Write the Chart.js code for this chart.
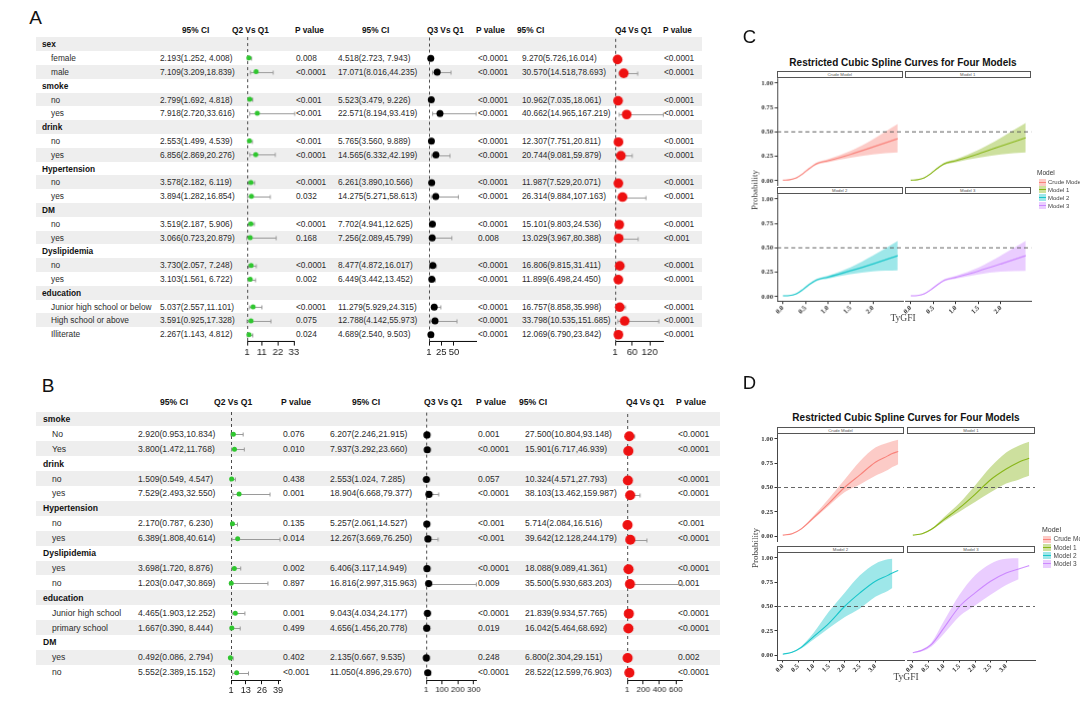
<!DOCTYPE html>
<html>
<head>
<meta charset="utf-8">
<script src="https://cdn.jsdelivr.net/npm/chart.js@4.4.1/dist/chart.umd.min.js"></script>
<style>
  html, body { margin: 0; padding: 0; background: #fff; }
  body { width: 1080px; height: 707px; position: relative; overflow: hidden; font-family: "Liberation Sans", Arial, sans-serif; }
  .t { position: absolute; white-space: pre; line-height: 12px; height: 12px; color: #2b2b2b; }
  .b { font-weight: bold; color: #111; }
  .box { position: absolute; }
  .stripe { position: absolute; background: #eeeeee; }
  .letter { position: absolute; line-height: 1; color: #111; }
  .c { position: absolute; white-space: nowrap; transform: translate(-50%, -50%); line-height: 1; }
  .strip { position: absolute; box-sizing: border-box; border: 1px solid #555; background: #fff; text-align: center; color: #555; font-size: 4.3px; overflow: hidden; }
  .key { position: absolute; }
  .key i { position: absolute; left: 0; right: 0; top: 50%; height: 1px; margin-top: -0.5px; }
</style>
</head>
<body>
<script>
"use strict";
//Panel A - subgroups
const groupsA = ['sex', 'smoke', 'drink', 'Hypertension', 'DM', 'Dyslipidemia', 'education'];
const levelsA = [['female', 'male'], ['no', 'yes'], ['no', 'yes'], ['no', 'yes'], ['no', 'yes'], ['no', 'yes'],
  ['Junior high school or below', 'High school or above', 'Illiterate']];
//Q2 vs Q1
const orA2 = [2.193, 7.109, 2.799, 7.918, 2.553, 6.856, 3.578, 3.894, 3.519, 3.066, 3.730, 3.103, 5.037, 3.591, 2.267];
const loA2 = [1.252, 3.209, 1.692, 2.720, 1.499, 2.869, 2.182, 1.282, 2.187, 0.723, 2.057, 1.561, 2.557, 0.925, 1.143];
const hiA2 = [4.008, 18.839, 4.818, 33.616, 4.539, 20.276, 6.119, 16.854, 5.906, 20.879, 7.248, 6.722, 11.101, 17.328, 4.812];
const pA2 = ['0.008', '<0.0001', '<0.001', '<0.001', '<0.001', '<0.0001', '<0.0001', '0.032', '<0.0001', '0.168', '<0.0001', '0.002', '<0.0001', '0.075', '0.024'];
//Q3 vs Q1
const orA3 = [4.518, 17.071, 5.523, 22.571, 5.765, 14.565, 6.261, 14.275, 7.702, 7.256, 8.477, 6.449, 11.279, 12.788, 4.689];
const loA3 = [2.723, 8.016, 3.479, 8.194, 3.560, 6.332, 3.890, 5.271, 4.941, 2.089, 4.872, 3.442, 5.929, 4.142, 2.540];
const hiA3 = [7.943, 44.235, 9.226, 93.419, 9.889, 42.199, 10.566, 58.613, 12.625, 45.799, 16.017, 13.452, 24.315, 55.973, 9.503];
const pA3 = ['<0.0001', '<0.0001', '<0.0001', '<0.0001', '<0.0001', '<0.0001', '<0.0001', '<0.0001', '<0.0001', '0.008', '<0.0001', '<0.0001', '<0.0001', '<0.0001', '<0.0001'];
//Q4 vs Q1
const orA4 = [9.270, 30.570, 10.962, 40.662, 12.307, 20.744, 11.987, 26.314, 15.101, 13.029, 16.806, 11.899, 16.757, 33.798, 12.069];
const loA4 = [5.726, 14.518, 7.035, 14.965, 7.751, 9.081, 7.529, 9.884, 9.803, 3.967, 9.815, 6.498, 8.858, 10.535, 6.790];
const hiA4 = [16.014, 78.693, 18.061, 167.219, 20.811, 59.879, 20.071, 107.163, 24.536, 80.388, 31.411, 24.450, 35.998, 151.685, 23.842];
const pA4 = ['<0.0001', '<0.0001', '<0.0001', '<0.0001', '<0.0001', '<0.0001', '<0.0001', '<0.0001', '<0.0001', '<0.001', '<0.0001', '<0.0001', '<0.0001', '<0.0001', '<0.0001'];
const ticksA2 = [1, 11, 22, 33];
const ticksA3 = [1, 25, 50];
const ticksA4 = [1, 60, 120];

//Panel B - subgroups
const groupsB = ['smoke', 'drink', 'Hypertension', 'Dyslipidemia', 'education', 'DM'];
const levelsB = [['No', 'Yes'], ['no', 'yes'], ['no', 'yes'], ['yes', 'no'], ['Junior high school', 'primary school'], ['yes', 'no']];
const orB2 = [2.920, 3.800, 1.509, 7.529, 2.170, 6.389, 3.698, 1.203, 4.465, 1.667, 0.492, 5.552];
const loB2 = [0.953, 1.472, 0.549, 2.493, 0.787, 1.808, 1.720, 0.047, 1.903, 0.390, 0.086, 2.389];
const hiB2 = [10.834, 11.768, 4.547, 32.550, 6.230, 40.614, 8.876, 30.869, 12.252, 8.444, 2.794, 15.152];
const pB2 = ['0.076', '0.010', '0.438', '0.001', '0.135', '0.014', '0.002', '0.897', '0.001', '0.499', '0.402', '<0.001'];
const orB3 = [6.207, 7.937, 2.553, 18.904, 5.257, 12.267, 6.406, 16.816, 9.043, 4.656, 2.135, 11.050];
const loB3 = [2.246, 3.292, 1.024, 6.668, 2.061, 3.669, 3.117, 2.997, 4.034, 1.456, 0.667, 4.896];
const hiB3 = [21.915, 23.660, 7.285, 79.377, 14.527, 76.250, 14.949, 315.963, 24.177, 20.778, 9.535, 29.670];
const pB3 = ['0.001', '<0.0001', '0.057', '<0.0001', '<0.001', '<0.001', '<0.0001', '0.009', '<0.0001', '0.019', '0.248', '<0.0001'];
const orB4 = [27.500, 15.901, 10.324, 38.103, 5.714, 39.642, 18.088, 35.500, 21.839, 16.042, 6.800, 28.522];
const loB4 = [10.804, 6.717, 4.571, 13.462, 2.084, 12.128, 9.089, 5.930, 9.934, 5.464, 2.304, 12.599];
const hiB4 = [93.148, 46.939, 27.793, 159.987, 16.516, 244.179, 41.361, 683.203, 57.765, 68.692, 29.151, 76.903];
const pB4 = ['<0.0001', '<0.0001', '<0.0001', '<0.0001', '<0.001', '<0.0001', '<0.0001', '0.001', '<0.0001', '<0.0001', '0.002', '<0.0001'];
const ticksB2 = [1, 13, 26, 39];
const ticksB3 = [1, 100, 200, 300];
const ticksB4 = [1, 200, 400, 600];

const headers = ['95% CI', 'Q2 Vs Q1', 'P value', '95% CI', 'Q3 Vs Q1', 'P value', '95% CI', 'Q4 Vs Q1', 'P value'];

//Panels C/D - spline curves
const modelNames = ['Crude Model', 'Model 1', 'Model 2', 'Model 3'];
const xC = [0, 0.15, 0.3, 0.45, 0.6, 0.75, 1.0, 1.5, 2.0, 2.55];
const crudeC = [0.005, 0.01, 0.03, 0.075, 0.13, 0.175, 0.205, 0.27, 0.345, 0.43];
const crudeLoC = [0.003, 0.007, 0.025, 0.068, 0.122, 0.165, 0.19, 0.235, 0.27, 0.29];
const crudeHiC = [0.007, 0.013, 0.035, 0.082, 0.138, 0.185, 0.22, 0.305, 0.425, 0.58];
const m1C = [0.005, 0.01, 0.03, 0.075, 0.13, 0.175, 0.205, 0.275, 0.355, 0.44];
const m1LoC = [0.003, 0.007, 0.025, 0.068, 0.122, 0.165, 0.19, 0.235, 0.27, 0.29];
const m1HiC = [0.007, 0.013, 0.035, 0.082, 0.138, 0.185, 0.22, 0.315, 0.44, 0.59];
const m2C = [0.008, 0.012, 0.03, 0.075, 0.13, 0.172, 0.2, 0.265, 0.335, 0.42];
const m2LoC = [0.005, 0.009, 0.025, 0.068, 0.122, 0.162, 0.185, 0.23, 0.26, 0.27];
const m2HiC = [0.011, 0.015, 0.035, 0.082, 0.138, 0.182, 0.215, 0.30, 0.42, 0.57];
const m3C = [0.008, 0.012, 0.03, 0.072, 0.125, 0.168, 0.198, 0.262, 0.335, 0.42];
const m3LoC = [0.005, 0.009, 0.025, 0.065, 0.117, 0.158, 0.183, 0.228, 0.255, 0.265];
const m3HiC = [0.011, 0.015, 0.035, 0.079, 0.133, 0.178, 0.213, 0.298, 0.42, 0.57];
const xTicksC = [0, 0.5, 1.0, 1.5, 2.0];

const xD = [0, 0.3, 0.6, 1.0, 1.5, 2.0, 2.5, 3.0, 3.4, 3.55, 3.74];
const crudeD = [0.01, 0.025, 0.075, 0.19, 0.34, 0.50, 0.63, 0.76, 0.825, 0.85, 0.87];
const crudeLoD = [0.008, 0.02, 0.068, 0.175, 0.315, 0.45, 0.53, 0.62, 0.68, 0.71, 0.74];
const crudeHiD = [0.012, 0.03, 0.082, 0.21, 0.39, 0.58, 0.77, 0.91, 0.96, 0.975, 0.99];
const m1D = [0.01, 0.025, 0.07, 0.17, 0.29, 0.43, 0.58, 0.69, 0.76, 0.78, 0.80];
const m1LoD = [0.008, 0.02, 0.063, 0.15, 0.25, 0.35, 0.45, 0.54, 0.58, 0.60, 0.62];
const m1HiD = [0.012, 0.03, 0.078, 0.195, 0.34, 0.52, 0.71, 0.86, 0.93, 0.95, 0.97];
const m2D = [0.01, 0.03, 0.08, 0.19, 0.33, 0.50, 0.64, 0.76, 0.82, 0.845, 0.87];
const m2LoD = [0.008, 0.025, 0.068, 0.16, 0.28, 0.39, 0.48, 0.60, 0.66, 0.69];
const m2HiD = [0.012, 0.035, 0.092, 0.23, 0.45, 0.64, 0.82, 0.94, 0.985, 0.99];
const m3D = [0.025, 0.05, 0.11, 0.28, 0.50, 0.64, 0.76, 0.845, 0.885, 0.90, 0.92];
const m3LoD = [0.02, 0.04, 0.09, 0.22, 0.40, 0.51, 0.62, 0.72, 0.78];
const m3HiD = [0.03, 0.06, 0.13, 0.35, 0.62, 0.82, 0.94, 0.99, 0.995];
const xTicksD = [0, 0.5, 1.0, 1.5, 2.0, 2.5, 3.0];
const yTicks = [0, 0.25, 0.5, 0.75, 1.0];

const modelColors = ['#F8766D', '#7CAE00', '#00BFC4', '#C77CFF'];

Chart.defaults.font.family = '"Liberation Sans", Arial, sans-serif';
Chart.defaults.animation = false;

const page = document.body;

const rgba = (hex, a) => {
  const n = parseInt(hex.slice(1), 16);
  return `rgba(${n >> 16},${(n >> 8) & 255},${n & 255},${a})`;
};
const fmt = (v) => v.toFixed(3);
const ciText = (o, l, h) => `${fmt(o)}(${fmt(l)},${fmt(h).padStart(6, ' ')})`;

function addText(s, x, y, size, bold) {
  const d = document.createElement('div');
  d.className = bold ? 't b' : 't';
  d.textContent = s;
  d.style.left = x + 'px';
  d.style.top = (y - 6) + 'px';
  d.style.fontSize = size + 'px';
  page.appendChild(d);
  return d;
}

function addCentered(s, x, y, css) {
  const d = document.createElement('div');
  d.className = 'c';
  d.textContent = s;
  d.style.left = x + 'px';
  d.style.top = y + 'px';
  Object.assign(d.style, css);
  page.appendChild(d);
  return d;
}

function addLetter(s, x, capTop, size) {
  const d = document.createElement('div');
  d.className = 'letter';
  d.textContent = s;
  d.style.fontSize = size + 'px';
  d.style.left = x + 'px';
  d.style.top = (capTop - 0.13 * size) + 'px';
  page.appendChild(d);
}

function makeCanvas(left, top, width, height) {
  const wrap = document.createElement('div');
  wrap.className = 'box';
  wrap.style.left = left + 'px';
  wrap.style.top = top + 'px';
  wrap.style.width = width + 'px';
  wrap.style.height = height + 'px';
  const cv = document.createElement('canvas');
  wrap.appendChild(cv);
  page.appendChild(wrap);
  return cv;
}

function flatten(groups, levels) {
  const rows = [];
  const dataRows = [];
  groups.forEach((g, i) => {
    rows.push({ text: g, group: true });
    levels[i].forEach((l) => {
      dataRows.push(rows.length);
      rows.push({ text: l, group: false });
    });
  });
  return { rows, dataRows };
}

//whiskers + dashed reference line at 1
const whiskers = {
  id: 'whiskers',
  beforeDatasetsDraw(chart) {
    const { ctx, chartArea, scales: { x, y } } = chart;
    const xr = Math.round(x.getPixelForValue(1)) + 0.5;
    ctx.save();
    ctx.strokeStyle = '#4a4a4a';
    ctx.lineWidth = 1;
    ctx.setLineDash([3, 3]);
    ctx.beginPath();
    ctx.moveTo(xr, chartArea.top);
    ctx.lineTo(xr, chartArea.bottom);
    ctx.stroke();
    ctx.setLineDash([]);
    ctx.strokeStyle = '#9a9a9a';
    chart.data.datasets[0].data.forEach((p) => {
      const yy = Math.round(y.getPixelForValue(p.y)) + 0.5;
      const a = x.getPixelForValue(p.lo);
      const b = x.getPixelForValue(p.hi);
      ctx.beginPath();
      ctx.moveTo(a, yy);
      ctx.lineTo(b, yy);
      ctx.moveTo(a, yy - 2);
      ctx.lineTo(a, yy + 2);
      ctx.moveTo(b, yy - 2);
      ctx.lineTo(b, yy + 2);
      ctx.stroke();
    });
    ctx.restore();
  }
};

function forestChart(L, pos, n, dataRows, c) {
  const PADL = 12, PADR = 14, PADT = 3, AXH = 20;
  const w = pos.x2 - pos.x1;
  const h = n * L.rowH;
  const cv = makeCanvas(pos.x1 - PADL, L.rowTop - PADT, w + PADL + PADR, h + PADT + AXH);
  const pts = c.or.map((o, k) => ({ x: o, y: dataRows[k], lo: c.lo[k], hi: c.hi[k] }));
  new Chart(cv, {
    type: 'scatter',
    data: {
      datasets: [{
        data: pts,
        pointRadius: c.r,
        pointHoverRadius: c.r,
        backgroundColor: c.color,
        borderWidth: 0,
        clip: false
      }]
    },
    options: {
      responsive: true,
      maintainAspectRatio: false,
      events: [],
      layout: { padding: { left: PADL, right: PADR, top: PADT, bottom: 0 } },
      plugins: { legend: { display: false }, tooltip: { enabled: false } },
      scales: {
        x: {
          type: 'linear',
          min: 1,
          max: Math.max(...c.hi),
          afterBuildTicks: (s) => { s.ticks = c.ticks.map((v) => ({ value: v })); },
          afterFit: (s) => { s.height = AXH; s.paddingLeft = 0; s.paddingRight = 0; },
          ticks: { autoSkip: false, maxRotation: 0, padding: 1, color: '#222', font: { size: c.tfs } },
          grid: { display: true, drawOnChartArea: false, drawTicks: true, tickLength: 4, color: '#111' },
          border: { display: true, color: '#111', width: 1 }
        },
        y: { display: false, min: -0.5, max: n - 0.5, reverse: true }
      }
    },
    plugins: [whiskers]
  });
}

function forestTable(L, groups, levels, cols) {
  const { rows, dataRows } = flatten(groups, levels);
  rows.forEach((r, i) => {
    if (i % 2 === 0) {
      const s = document.createElement('div');
      s.className = 'stripe';
      s.style.left = L.stripe[0] + 'px';
      s.style.width = (L.stripe[1] - L.stripe[0]) + 'px';
      s.style.top = (L.rowTop + i * L.rowH) + 'px';
      s.style.height = L.rowH + 'px';
      page.appendChild(s);
    }
  });
  headers.forEach((h, i) => addText(h, L.headX[i], L.headY, L.fs, true));
  rows.forEach((r, i) => {
    addText(r.text, r.group ? L.labelX : L.subX, L.rowTop + (i + 0.5) * L.rowH, L.fs, r.group);
  });
  cols.forEach((c, j) => {
    const pos = L.cols[j];
    c.or.forEach((o, k) => {
      const yc = L.rowTop + (dataRows[k] + 0.5) * L.rowH;
      addText(ciText(o, c.lo[k], c.hi[k]), pos.ci, yc, L.fs);
      addText(c.p[k], pos.p, yc, L.fs);
    });
    forestChart(L, pos, rows.length, dataRows, c);
  });
}

//Forest A
forestTable({
  rowTop: 37.4, rowH: 13.8, headY: 30, fs: 8.3, stripe: [36, 702], labelX: 42, subX: 51,
  headX: [182, 232, 295, 362, 427, 476, 517, 615, 663],
  cols: [
    { ci: 160, p: 296, x1: 247, x2: 293.9 },
    { ci: 338, p: 478, x1: 429, x2: 476.1 },
    { ci: 522, p: 664, x1: 615, x2: 662.5 }
  ]
}, groupsA, levelsA, [
  { or: orA2, lo: loA2, hi: hiA2, p: pA2, ticks: ticksA2, color: '#2fc62f', r: 2.5, tfs: 9.5 },
  { or: orA3, lo: loA3, hi: hiA3, p: pA3, ticks: ticksA3, color: '#000000', r: 3.5, tfs: 9.5 },
  { or: orA4, lo: loA4, hi: hiA4, p: pA4, ticks: ticksA4, color: '#ee1111', r: 4.8, tfs: 9.5 }
]);

//Forest B
forestTable({
  rowTop: 411.5, rowH: 14.9, headY: 402, fs: 8.6, stripe: [36, 720], labelX: 43, subX: 52,
  headX: [160, 214, 281, 352, 424, 476, 519, 626, 676],
  cols: [
    { ci: 138, p: 283, x1: 231, x2: 280 },
    { ci: 330, p: 478, x1: 426, x2: 475.5 },
    { ci: 525, p: 678, x1: 627, x2: 681.7 }
  ]
}, groupsB, levelsB, [
  { or: orB2, lo: loB2, hi: hiB2, p: pB2, ticks: ticksB2, color: '#2fc62f', r: 2.5, tfs: 9.2 },
  { or: orB3, lo: loB3, hi: hiB3, p: pB3, ticks: ticksB3, color: '#000000', r: 3.6, tfs: 8 },
  { or: orB4, lo: loB4, hi: hiB4, p: pB4, ticks: ticksB4, color: '#ee1111', r: 5, tfs: 8 }
]);

//Spline facets
function facetChart(px, py, pw, ph, xs, m, xTicks, showX, showY) {
  const PAD = 12, YW = 22, XH = 15;
  const offL = showY ? YW : 0;
  const offB = showX ? XH : 0;
  const cv = makeCanvas(px - PAD - offL, py - PAD, pw + 2 * PAD + offL, ph + 2 * PAD + offB);
  const xr = xs[xs.length - 1];
  const xmin = -0.05 * xr, xmax = 1.05 * xr;
  const band = xs.slice(0, m.lo.length);
  const tickFont = { family: '"Liberation Serif", "Times New Roman", serif', size: 6.7, weight: 'bold' };
  const xAxis = {
    type: 'linear', min: xmin, max: xmax, display: showX,
    afterBuildTicks: (s) => { s.ticks = xTicks.map((v) => ({ value: v })); },
    ticks: { autoSkip: false, minRotation: 45, maxRotation: 45, padding: 0, color: '#333', font: tickFont, callback: (v) => v.toFixed(1) },
    grid: { display: true, drawOnChartArea: false, drawTicks: true, tickLength: 2.5, color: '#333' },
    border: { display: true, color: '#333', width: 0.9 }
  };
  if (showX) xAxis.afterFit = (s) => { s.height = XH; s.paddingLeft = 0; s.paddingRight = 0; };
  const yAxis = {
    type: 'linear', min: -0.05, max: 1.05, display: showY,
    afterBuildTicks: (s) => { s.ticks = yTicks.map((v) => ({ value: v })); },
    ticks: { autoSkip: false, padding: 1.5, color: '#333', font: tickFont, callback: (v) => v.toFixed(2) },
    grid: { display: true, drawOnChartArea: false, drawTicks: true, tickLength: 2.5, color: '#333' },
    border: { display: true, color: '#333', width: 0.9 }
  };
  if (showY) yAxis.afterFit = (s) => { s.width = YW; s.paddingTop = 0; s.paddingBottom = 0; };
  new Chart(cv, {
    type: 'line',
    data: {
      datasets: [
        { data: [{ x: xmin, y: 0.5 }, { x: xmax, y: 0.5 }], borderColor: '#555', borderWidth: 0.9, borderDash: [4, 3], order: 0 },
        { data: xs.map((x, k) => ({ x, y: m.line[k] })), borderColor: rgba(m.color, 0.85), borderWidth: 1.1, order: 1 },
        { data: band.map((x, k) => ({ x, y: m.hi[k] })), borderWidth: 0, borderColor: 'rgba(0,0,0,0)', order: 2 },
        { data: band.map((x, k) => ({ x, y: m.lo[k] })), borderWidth: 0, borderColor: 'rgba(0,0,0,0)', fill: '-1', backgroundColor: rgba(m.color, 0.38), order: 3 }
      ]
    },
    options: {
      responsive: true,
      maintainAspectRatio: false,
      events: [],
      layout: { padding: PAD },
      elements: { point: { radius: 0 }, line: { cubicInterpolationMode: 'monotone' } },
      plugins: { legend: { display: false }, tooltip: { enabled: false } },
      scales: { x: xAxis, y: yAxis }
    }
  });
}

function splineFigure(S, xs, models, xTicks) {
  addCentered('Restricted Cubic Spline Curves for Four Models', S.titleX, S.titleY,
    { fontSize: '10px', fontWeight: 'bold', color: '#111' });
  models.forEach((m, i) => {
    const col = i % 2, row = Math.floor(i / 2);
    const px = S.x[col], pw = S.w[col], py = S.y[row];
    const st = document.createElement('div');
    st.className = 'strip';
    st.textContent = modelNames[i];
    st.style.left = px + 'px';
    st.style.top = (py - S.stripH) + 'px';
    st.style.width = pw + 'px';
    st.style.height = S.stripH + 'px';
    st.style.lineHeight = (S.stripH - 2) + 'px';
    page.appendChild(st);
    facetChart(px, py, pw, S.h, xs, m, xTicks, row === 1, col === 0);
  });
  addCentered('Probability', S.yTitle[0], S.yTitle[1],
    { fontFamily: '"Liberation Serif", serif', fontSize: '9px', color: '#444', transform: 'translate(-50%,-50%) rotate(-90deg)' });
  addCentered('TyGFI', S.xTitle[0], S.xTitle[1], { fontFamily: '"Liberation Serif", serif', fontSize: '9.5px', color: '#444' });
  //legend
  const lg = S.legend;
  const t = document.createElement('div');
  t.className = 't';
  t.textContent = 'Model';
  t.style.left = lg.x + 'px';
  t.style.top = (lg.titleY - 6) + 'px';
  t.style.fontSize = lg.titleFs + 'px';
  t.style.color = '#333';
  page.appendChild(t);
  models.forEach((m, i) => {
    const yc = lg.y0 + i * lg.step;
    const k = document.createElement('div');
    k.className = 'key';
    k.style.left = lg.keyX + 'px';
    k.style.top = (yc - lg.keyH / 2) + 'px';
    k.style.width = lg.keyW + 'px';
    k.style.height = lg.keyH + 'px';
    k.style.background = rgba(m.color, 0.38);
    const ln = document.createElement('i');
    ln.style.background = rgba(m.color, 0.85);
    k.appendChild(ln);
    page.appendChild(k);
    const tx = addText(modelNames[i], lg.textX, yc, lg.fs);
    tx.style.color = '#444';
  });
}

//Figure C
splineFigure({
  x: [777, 904.5], w: [125.5, 126.5], y: [78.2, 194.2], h: 106.7, stripH: 7,
  titleX: 903, titleY: 63, yTitle: [755, 189.6], xTitle: [903, 319],
  legend: { x: 1037, titleY: 173, titleFs: 6.5, y0: 182, step: 7.9, keyX: 1039, keyW: 7, keyH: 7, textX: 1048, fs: 6 }
}, xC, [
  { line: crudeC, lo: crudeLoC, hi: crudeHiC, color: modelColors[0] },
  { line: m1C, lo: m1LoC, hi: m1HiC, color: modelColors[1] },
  { line: m2C, lo: m2LoC, hi: m2HiC, color: modelColors[2] },
  { line: m3C, lo: m3LoC, hi: m3HiC, color: modelColors[3] }
], xTicksC);

//Figure D
splineFigure({
  x: [777, 907], w: [127, 128], y: [434.2, 553.4], h: 107, stripH: 7.5,
  titleX: 906, titleY: 418, yTitle: [755, 548], xTitle: [906, 678],
  legend: { x: 1042, titleY: 530, titleFs: 7, y0: 539.3, step: 8.2, keyX: 1043, keyW: 8, keyH: 7.5, textX: 1053.5, fs: 6.5 }
}, xD, [
  { line: crudeD, lo: crudeLoD, hi: crudeHiD, color: modelColors[0] },
  { line: m1D, lo: m1LoD, hi: m1HiD, color: modelColors[1] },
  { line: m2D, lo: m2LoD, hi: m2HiD, color: modelColors[2] },
  { line: m3D, lo: m3LoD, hi: m3HiD, color: modelColors[3] }
], xTicksD);

addLetter('A', 29.3, 10, 19);
addLetter('B', 41.7, 378, 19);
addLetter('C', 742.7, 30, 18.5);
addLetter('D', 742.7, 376.7, 18.5);
</script>
</body>
</html>
